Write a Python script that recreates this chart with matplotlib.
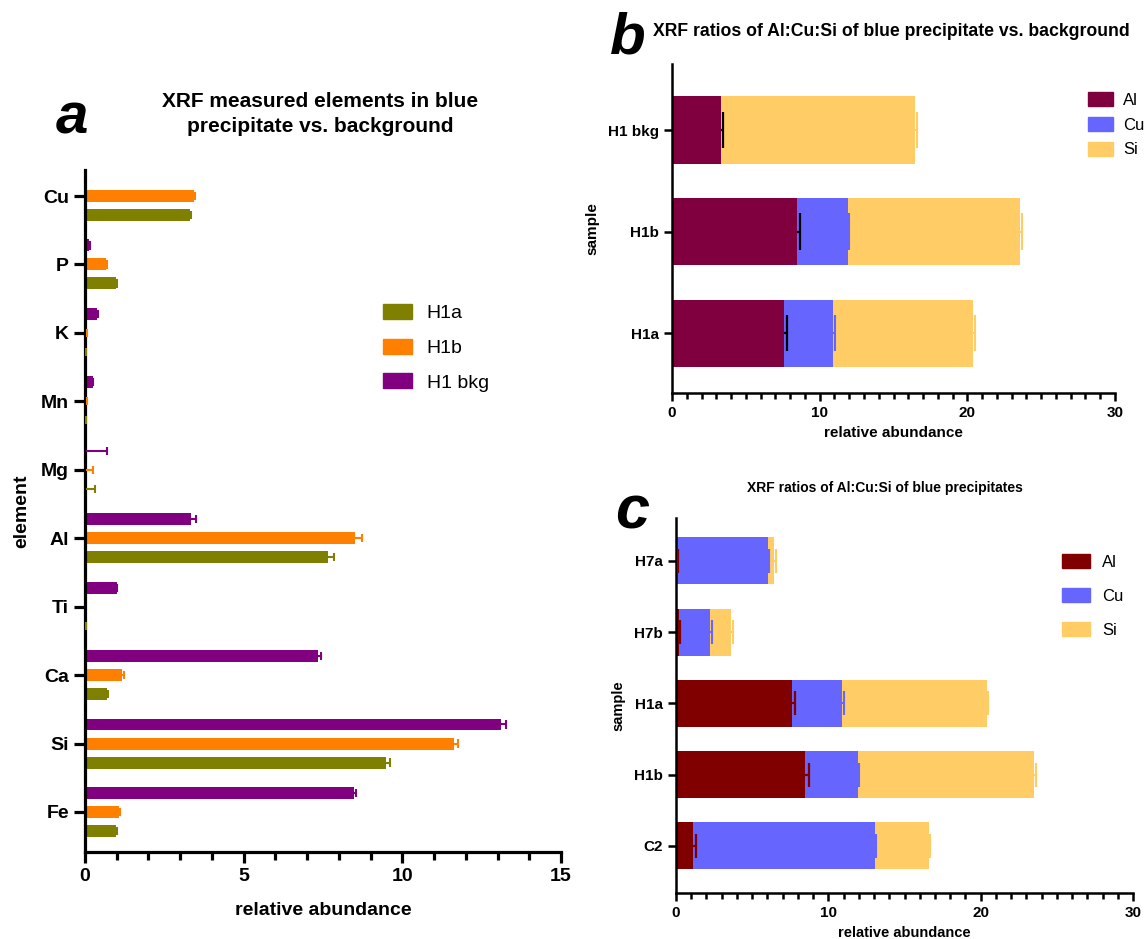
import numpy as np
import matplotlib
matplotlib.use('Agg')
import matplotlib.pyplot as plt
from matplotlib.patches import Patch
from matplotlib.ticker import MultipleLocator

plt.rcParams['font.family'] = ['Liberation Sans', 'DejaVu Sans']

# panel a: elements, top to bottom
elements = ['Cu', 'P', 'K', 'Mn', 'Mg', 'Al', 'Ti', 'Ca', 'Si', 'Fe']
h1a = [3.30, 0.97, 0.03, 0.03, 0.03, 7.65, 0.03, 0.70, 9.48, 0.97]
h1b = [3.43, 0.66, 0.05, 0.05, 0.04, 8.52, 0.00, 1.18, 11.62, 1.08]
h1bkg = [0.00, 0.14, 0.38, 0.24, 0.03, 3.33, 1.00, 7.33, 13.12, 8.48]
h1a_err = [0.03, 0.03, 0.01, 0.01, 0.28, 0.20, 0.01, 0.03, 0.13, 0.03]
h1b_err = [0.04, 0.03, 0.01, 0.01, 0.20, 0.20, 0.00, 0.04, 0.14, 0.03]
h1bkg_err = [0.00, 0.02, 0.03, 0.02, 0.65, 0.17, 0.02, 0.12, 0.16, 0.07]

# panel b: samples, top to bottom
samples_b = ['H1 bkg', 'H1b', 'H1a']
al_b = [3.32, 8.49, 7.61]
cu_b = [0.00, 3.41, 3.32]
si_b = [13.14, 11.64, 9.44]
al_err_b = [0.15, 0.20, 0.17]
cu_err_b = [0.00, 0.10, 0.10]
si_err_b = [0.15, 0.15, 0.15]

# panel c: samples, top to bottom
samples_c = ['H7a', 'H7b', 'H1a', 'H1b', 'C2']
al_c = [0.08, 0.18, 7.63, 8.50, 1.13]
cu_c = [5.93, 2.06, 3.27, 3.44, 11.91]
si_c = [0.44, 1.38, 9.49, 11.59, 3.55]
al_err_c = [0.05, 0.10, 0.17, 0.20, 0.16]
cu_err_c = [0.10, 0.10, 0.10, 0.10, 0.10]
si_err_c = [0.10, 0.10, 0.12, 0.12, 0.10]

W, H = 1146, 939
fig = plt.figure(figsize=(W / 100, H / 100), dpi=100)


def box(x0, y0, x1, y1):
    # pixel box (top-left origin) -> figure fraction rect
    return [x0 / W, 1 - y1 / H, (x1 - x0) / W, (y1 - y0) / H]


def style_axes(ax, lw, tlen, fs):
    for s in ['top', 'right']:
        ax.spines[s].set_visible(False)
    for s in ['left', 'bottom']:
        ax.spines[s].set_linewidth(lw)
    ax.tick_params(axis='both', which='major', width=lw, length=tlen, labelsize=fs)
    ax.tick_params(axis='x', which='minor', width=lw, length=tlen * 0.75)
    for lab in ax.get_xticklabels() + ax.get_yticklabels():
        lab.set_fontweight('bold')


def err_lines(ax, x, y, err, color, half, lw, z=3):
    # one-sided error bar: line from bar end, cap only at the far end
    x = np.asarray(x, float)
    y = np.asarray(y, float)
    err = np.asarray(err, float)
    keep = err > 0
    x, y, err = x[keep], y[keep], err[keep]
    ax.hlines(y, x, x + err, colors=color, lw=lw, zorder=z)
    ax.vlines(x + err, y - half, y + half, colors=color, lw=lw, zorder=z)


# ---------------- panel a ----------------
ax = fig.add_axes(box(85, 170, 561, 852))
c_a, c_b, c_bkg = '#808000', '#FF8000', '#800080'
n = len(elements)
pos = np.arange(n)[::-1].astype(float)
off = 0.278
bh = 0.175
for vals, errs, col, dy, lab in [(h1a, h1a_err, c_a, -off, 'H1a'),
                                  (h1b, h1b_err, c_b, 0.0, 'H1b'),
                                  (h1bkg, h1bkg_err, c_bkg, off, 'H1 bkg')]:
    ax.barh(pos + dy, vals, height=bh, color=col, label=lab, zorder=2)
    err_lines(ax, vals, pos + dy, errs, col, 0.06, 1.5)
ax.set_xlim(0, 15)
ax.set_ylim(-0.585, 9.38)
ax.set_yticks(pos)
ax.set_yticklabels(elements)
ax.xaxis.set_major_locator(MultipleLocator(5))
ax.xaxis.set_minor_locator(MultipleLocator(1))
style_axes(ax, 2.3, 8, 14)
ax.set_xlabel('relative abundance', fontsize=14, fontweight='bold', labelpad=12)
ax.set_ylabel('element', fontsize=14, fontweight='bold', labelpad=8)
handles = [Patch(color=c_a, label='H1a'), Patch(color=c_b, label='H1b'),
           Patch(color=c_bkg, label='H1 bkg')]
ax.legend(handles=handles, loc='upper left', bbox_to_anchor=(383 / W, 1 - 304 / H),
          bbox_transform=fig.transFigure, frameon=False, fontsize=14,
          handlelength=1.5, handleheight=0.8, handletextpad=0.75,
          labelspacing=0.85, borderpad=0, borderaxespad=0)
fig.text(320 / W, 1 - 114 / H, 'XRF measured elements in blue\nprecipitate vs. background',
         ha='center', va='center', fontsize=15, fontweight='bold', linespacing=1.4)
fig.text(72 / W, 1 - 119 / H, 'a', ha='center', va='center', fontsize=42,
         fontweight='bold', fontstyle='italic')


def stacked(ax, samples, al, cu, si, al_err, cu_err, si_err, al_col, al_ecol, half):
    m = len(samples)
    p = np.arange(m)[::-1].astype(float)
    cu_col, si_col = '#6666FF', '#FFCC66'
    al = np.array(al)
    cu = np.array(cu)
    si = np.array(si)
    ax.barh(p, al, height=0.66, color=al_col, label='Al', zorder=2)
    ax.barh(p, cu, left=al, height=0.66, color=cu_col, label='Cu', zorder=2)
    ax.barh(p, si, left=al + cu, height=0.66, color=si_col, label='Si', zorder=2)
    err_lines(ax, al + cu + si, p, si_err, si_col, half, 1.5)
    err_lines(ax, al + cu, p, cu_err, cu_col, half, 1.5)
    err_lines(ax, al, p, al_err, al_ecol, half, 1.6, z=4)
    ax.set_yticks(p)
    ax.set_yticklabels(samples)
    ax.set_xlim(0, 30)
    ax.xaxis.set_major_locator(MultipleLocator(10))
    ax.xaxis.set_minor_locator(MultipleLocator(1))
    return [Patch(color=al_col, label='Al'), Patch(color=cu_col, label='Cu'),
            Patch(color=si_col, label='Si')]


# ---------------- panel b ----------------
ax = fig.add_axes(box(672, 64, 1115, 393))
hb = stacked(ax, samples_b, al_b, cu_b, si_b, al_err_b, cu_err_b, si_err_b,
             '#80003F', 'black', 0.18)
ax.set_ylim(-0.59, 2.65)
style_axes(ax, 1.8, 6, 11)
ax.set_xlabel('relative abundance', fontsize=11, fontweight='bold', labelpad=4)
ax.set_ylabel('sample', fontsize=11, fontweight='bold', labelpad=6)
ax.legend(handles=hb, loc='upper left', bbox_to_anchor=(1088 / W, 1 - 92 / H),
          bbox_transform=fig.transFigure, frameon=False, fontsize=12,
          handlelength=1.5, handleheight=0.9, handletextpad=0.6,
          labelspacing=0.55, borderpad=0, borderaxespad=0)
fig.text(891 / W, 1 - 32 / H, 'XRF ratios of Al:Cu:Si of blue precipitate vs. background',
         ha='center', va='center', fontsize=12.7, fontweight='bold')
fig.text(628 / W, 1 - 38 / H, 'b', ha='center', va='center', fontsize=42,
         fontweight='bold', fontstyle='italic')

# ---------------- panel c ----------------
ax = fig.add_axes(box(676, 518, 1133, 893))
hc = stacked(ax, samples_c, al_c, cu_c, si_c, al_err_c, cu_err_c, si_err_c,
             '#800000', '#800000', 0.17)
ax.set_ylim(-0.66, 4.6)
style_axes(ax, 1.8, 6, 11)
ax.set_xlabel('relative abundance', fontsize=10.5, fontweight='bold', labelpad=4)
ax.set_ylabel('sample', fontsize=10.5, fontweight='bold', labelpad=6)
ax.legend(handles=hc, loc='upper left', bbox_to_anchor=(1062 / W, 1 - 554 / H),
          bbox_transform=fig.transFigure, frameon=False, fontsize=12,
          handlelength=1.7, handleheight=0.9, handletextpad=0.7,
          labelspacing=1.1, borderpad=0, borderaxespad=0)
fig.text(885 / W, 1 - 488 / H, 'XRF ratios of Al:Cu:Si of blue precipitates',
         ha='center', va='center', fontsize=10, fontweight='bold')
fig.text(632 / W, 1 - 513 / H, 'c', ha='center', va='center', fontsize=44,
         fontweight='bold', fontstyle='italic')

fig.savefig('out.png', dpi=100)
